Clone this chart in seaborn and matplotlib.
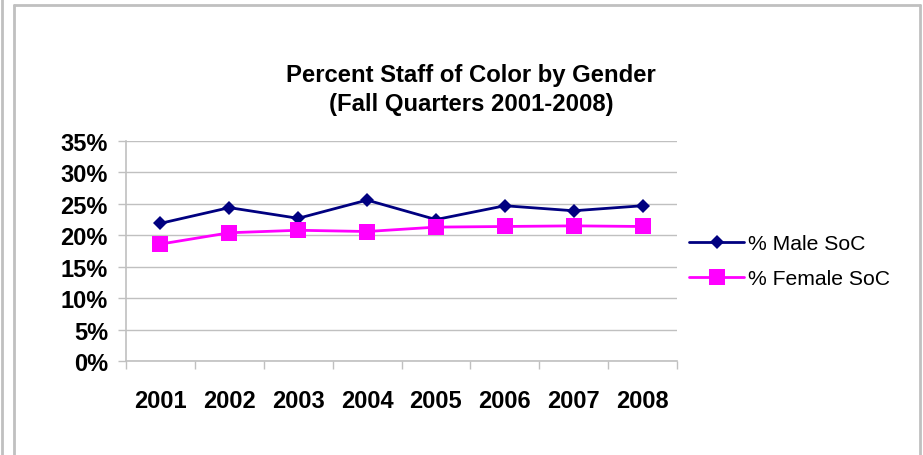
import matplotlib
matplotlib.use("Agg")
import matplotlib.pyplot as plt
from matplotlib.lines import Line2D
import seaborn as sns
import numpy as np
import pandas as pd

years = [2001, 2002, 2003, 2004, 2005, 2006, 2007, 2008]
male_soc = [21.9, 24.4, 22.7, 25.6, 22.5, 24.7, 23.9, 24.7]
female_soc = [18.6, 20.4, 20.8, 20.6, 21.3, 21.4, 21.5, 21.4]
series_names = ["% Male SoC", "% Female SoC"]
series_colors = {"% Male SoC": "#000080", "% Female SoC": "#FF00FF"}
series_markers = {"% Male SoC": "D", "% Female SoC": "s"}
y_ticks = [0, 5, 10, 15, 20, 25, 30, 35]

df = pd.DataFrame({
    "year": years * 2,
    "pct": male_soc + female_soc,
    "series": [series_names[0]] * len(years) + [series_names[1]] * len(years),
})

sns.set_theme(style="white")
plt.rcParams["font.family"] = ["Liberation Sans", "DejaVu Sans"]
plt.rcParams["text.color"] = "black"

W, H = 923, 456
fig = plt.figure(figsize=(W / 100, H / 100), dpi=100)
ax = fig.add_axes([126 / W, (H - 362) / H, (677 - 126) / W, 220 / H])

for name in series_names:
    sub = df[df["series"] == name]
    sns.lineplot(
        data=sub, x="year", y="pct", color=series_colors[name],
        marker=series_markers[name],
        markersize=7.5 if series_markers[name] == "D" else 11,
        markeredgewidth=0, linewidth=2, ax=ax, legend=False,
    )

ax.set_xlim(years[0] - 0.5, years[-1] + 0.5)
ax.set_ylim(0, 35)
ax.set_yticks(y_ticks)
ax.set_yticklabels([f"{t}%" for t in y_ticks])
ax.set_xticks(years)
ax.set_xticklabels([str(y) for y in years])
ax.set_xticks(np.arange(years[0] - 0.5, years[-1] + 1, 1.0), minor=True)
ax.yaxis.grid(True, color="#c0c0c0", linewidth=1)
ax.set_axisbelow(True)
ax.set_xlabel("")
ax.set_ylabel("")

for s in ["top", "right"]:
    ax.spines[s].set_visible(False)
for s in ["left", "bottom"]:
    ax.spines[s].set_color("#c0c0c0")
    ax.spines[s].set_linewidth(1.2)

ax.tick_params(axis="y", which="major", left=True, length=6, width=1,
               color="#c0c0c0", labelcolor="black", pad=7, labelsize=17)
ax.tick_params(axis="x", which="major", bottom=True, length=0, pad=20,
               labelcolor="black", labelsize=17)
ax.tick_params(axis="x", which="minor", bottom=True, length=6, width=1, color="#c0c0c0")
for lab in ax.get_xticklabels() + ax.get_yticklabels():
    lab.set_fontweight("bold")

fig.text(471 / W, 1 - 90 / H, "Percent Staff of Color by Gender\n(Fall Quarters 2001-2008)",
         ha="center", va="center", fontsize=17.2, fontweight="bold", linespacing=1.3,
         color="black")

handles = [
    Line2D([], [], color=series_colors[n], marker=series_markers[n],
           markersize=7.5 if series_markers[n] == "D" else 11, markeredgewidth=0, linewidth=2)
    for n in series_names
]
fig.legend(handles, series_names, loc="center left", bbox_to_anchor=(681 / W, 1 - 262 / H),
           frameon=False, fontsize=15.2, handlelength=2.6, handletextpad=0.15,
           labelspacing=0.75, borderaxespad=0, labelcolor="black")

# outer frame lines
gray = "#c0c0c0"
fig.add_artist(Line2D([1.5 / W, 1.5 / W], [0, 1], transform=fig.transFigure, color=gray, linewidth=2))
fig.add_artist(Line2D([14 / W, 14 / W], [0, 1 - 5.5 / H], transform=fig.transFigure, color=gray, linewidth=2))
fig.add_artist(Line2D([14 / W, 920 / W], [1 - 5.5 / H, 1 - 5.5 / H], transform=fig.transFigure, color=gray, linewidth=2))
fig.add_artist(Line2D([920 / W, 920 / W], [0, 1 - 5.5 / H], transform=fig.transFigure, color=gray, linewidth=2))

fig.savefig("out.png", dpi=100)
plt.close(fig)
